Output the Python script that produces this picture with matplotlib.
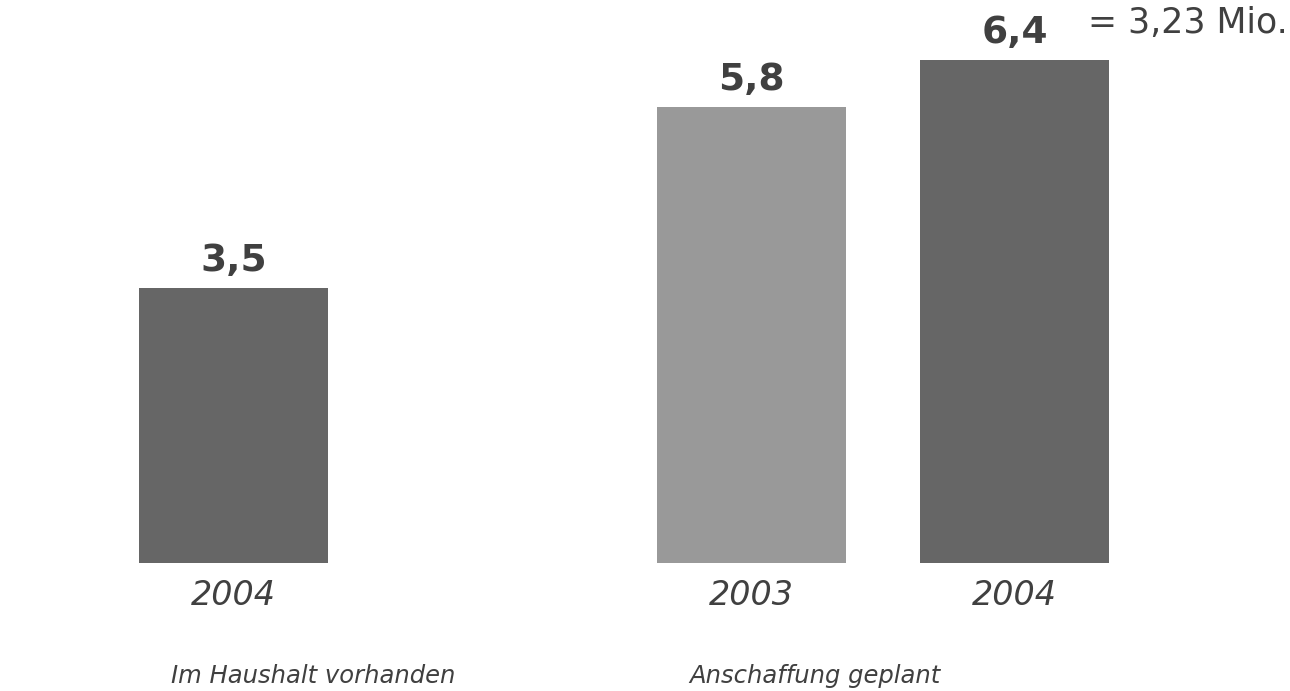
import matplotlib
matplotlib.use("Agg")
import matplotlib.pyplot as plt
from matplotlib.transforms import blended_transform_factory

# ---- data ----
groups = ["Im Haushalt vorhanden", "Anschaffung geplant"]
years = ["2004", "2003", "2004"]
values = [3.5, 5.8, 6.4]
value_labels = ["3,5", "5,8", "6,4"]
bar_group = [0, 1, 1]
note = "= 3,23 Mio."

# ---- style ----
DARK = "#666666"
LIGHT = "#999999"
TEXT = "#404040"
bar_colors = [DARK, LIGHT, DARK]
plt.rcParams["font.family"] = ["DejaVu Sans"]

# layout: positions in bar units (263 px per unit)
positions = [0.0, 1.97, 2.97]
width = 0.719

fig = plt.figure(figsize=(12.9, 6.91), dpi=100)
ax = fig.add_axes([0, 0, 1, 1])
ax.set_xlim(-0.888, 4.017)
ax.set_ylim(-1.628, 7.163)
ax.axis("off")

ax.bar(positions, values, width=width, color=bar_colors, edgecolor="none")

for x, v, lab in zip(positions, values, value_labels):
    ax.annotate(lab, (x, v), xytext=(0, 12.5), textcoords="offset points",
                ha="center", va="baseline", fontsize=27, fontweight="bold",
                color=TEXT)

trans = blended_transform_factory(ax.transData, fig.transFigure)
for x, yr in zip(positions, years):
    ax.text(x, (691 - 605) / 691, yr, transform=trans, ha="center",
            va="baseline", fontsize=24, fontstyle="italic", color=TEXT)

# group labels, left aligned slightly inside the first bar of each group
for gi, g in enumerate(groups):
    first = min(i for i, b in enumerate(bar_group) if b == gi)
    x = positions[first] - width / 2 + 32 / 263
    ax.text(x, (691 - 683) / 691, g, transform=trans, ha="left",
            va="baseline", fontsize=17.5, fontstyle="italic", color=TEXT)

# note next to last bar
ax.annotate(note, (positions[-1], values[-1]), xytext=(53, 19.4),
            textcoords="offset points", ha="left", va="baseline",
            fontsize=25, color=TEXT)

fig.savefig("out.png", dpi=100, facecolor="white")
